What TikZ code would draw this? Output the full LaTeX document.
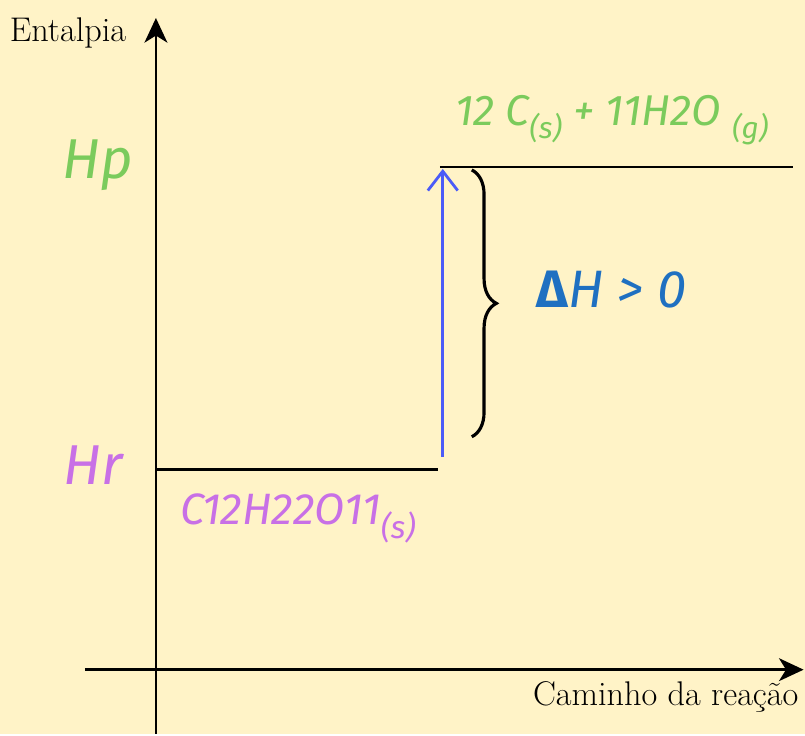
\documentclass[tikz,border=0pt]{standalone}
\usepackage{fontspec}
\newfontfamily\handfont{Fira Sans}
\usepackage{xcolor}
\definecolor{bgYellow}{HTML}{FFF3C7}
\definecolor{prodGreen}{HTML}{7BCB5C}
\definecolor{reacPurple}{HTML}{C870E6}
\definecolor{arrowBlue}{HTML}{4B5BF7}
\definecolor{deltaBlue}{HTML}{1F70C1}
\usetikzlibrary{arrows.meta, positioning, decorations.pathreplacing}
\newcommand{\phase}[2]{\raisebox{-0.6ex}{\fontsize{#1}{#1}\selectfont(#2)}}

\begin{document}
\begin{tikzpicture}[
		x=0.02cm, y=-0.02cm,
		axis/.style={-{Stealth[length=14pt,width=13pt,inset=4pt]}, line width=1.6pt},
		level/.style={line width=1.6pt},
		axislabel/.style={font=\fontsize{19.5}{22}\selectfont},
		hand/.style={font=\handfont\itshape\fontsize{#1}{#1}\selectfont, inner sep=0pt},
		dharrow/.style={-{Straight Barb[length=11pt,width=17pt,line width=1.6pt]}, line width=1.6pt, arrowBlue}
		]
		
		% background
		\fill[bgYellow] (0,0) rectangle (805,734);
		
		% axes
		\coordinate (yBase) at (156,734);
		\coordinate (yTip) at (156,18);
		\coordinate (xBase) at (85,670);
		\coordinate (xTip) at (804,670);
		\draw[axis] (yBase) -- (yTip);
		\draw[axis] (xBase) -- (xTip);
		\node[axislabel] (entalpia) at (68,33) {Entalpia};
		\node[axislabel] (caminho) at (666,697) {Caminho da reação};
		
		% levels
		\coordinate (hrStart) at (156,470);
		\coordinate (hrEnd) at (438,470);
		\coordinate (hpStart) at (440,167);
		\coordinate (hpEnd) at (793,167);
		\draw[level] (hrStart) -- (hrEnd);
		\draw[level] (hpStart) -- (hpEnd);
		
		\node[hand=32, text=prodGreen] (hp) at (98,165) {Hp};
		\node[hand=32, text=reacPurple] (hr) at (93,465) {Hr};
		\node[hand=24.5, text=prodGreen] (prod) at (612,120) {12 C\phase{17}{s} + 11H2O \phase{17}{g}};
		\node[hand=25, text=reacPurple] (reac) at (298,519) {C12H22O11\phase{18}{s}};
		
		% variation
		\coordinate (dhTail) at (443,457);
		\coordinate (dhHead) at (443,169);
		\draw[dharrow] (dhTail) -- (dhHead);
		
		\coordinate (braceTop) at (472,170);
		\coordinate (braceBot) at (472,437);
		\draw[line width=1.8pt, decorate, decoration={brace, amplitude=14pt}] (braceTop) -- (braceBot);
		\node[hand=30, text=deltaBlue] (dh) at (612,290) {\textbf{\upshape Δ}H > 0};
		
	\end{tikzpicture}
\end{document}
